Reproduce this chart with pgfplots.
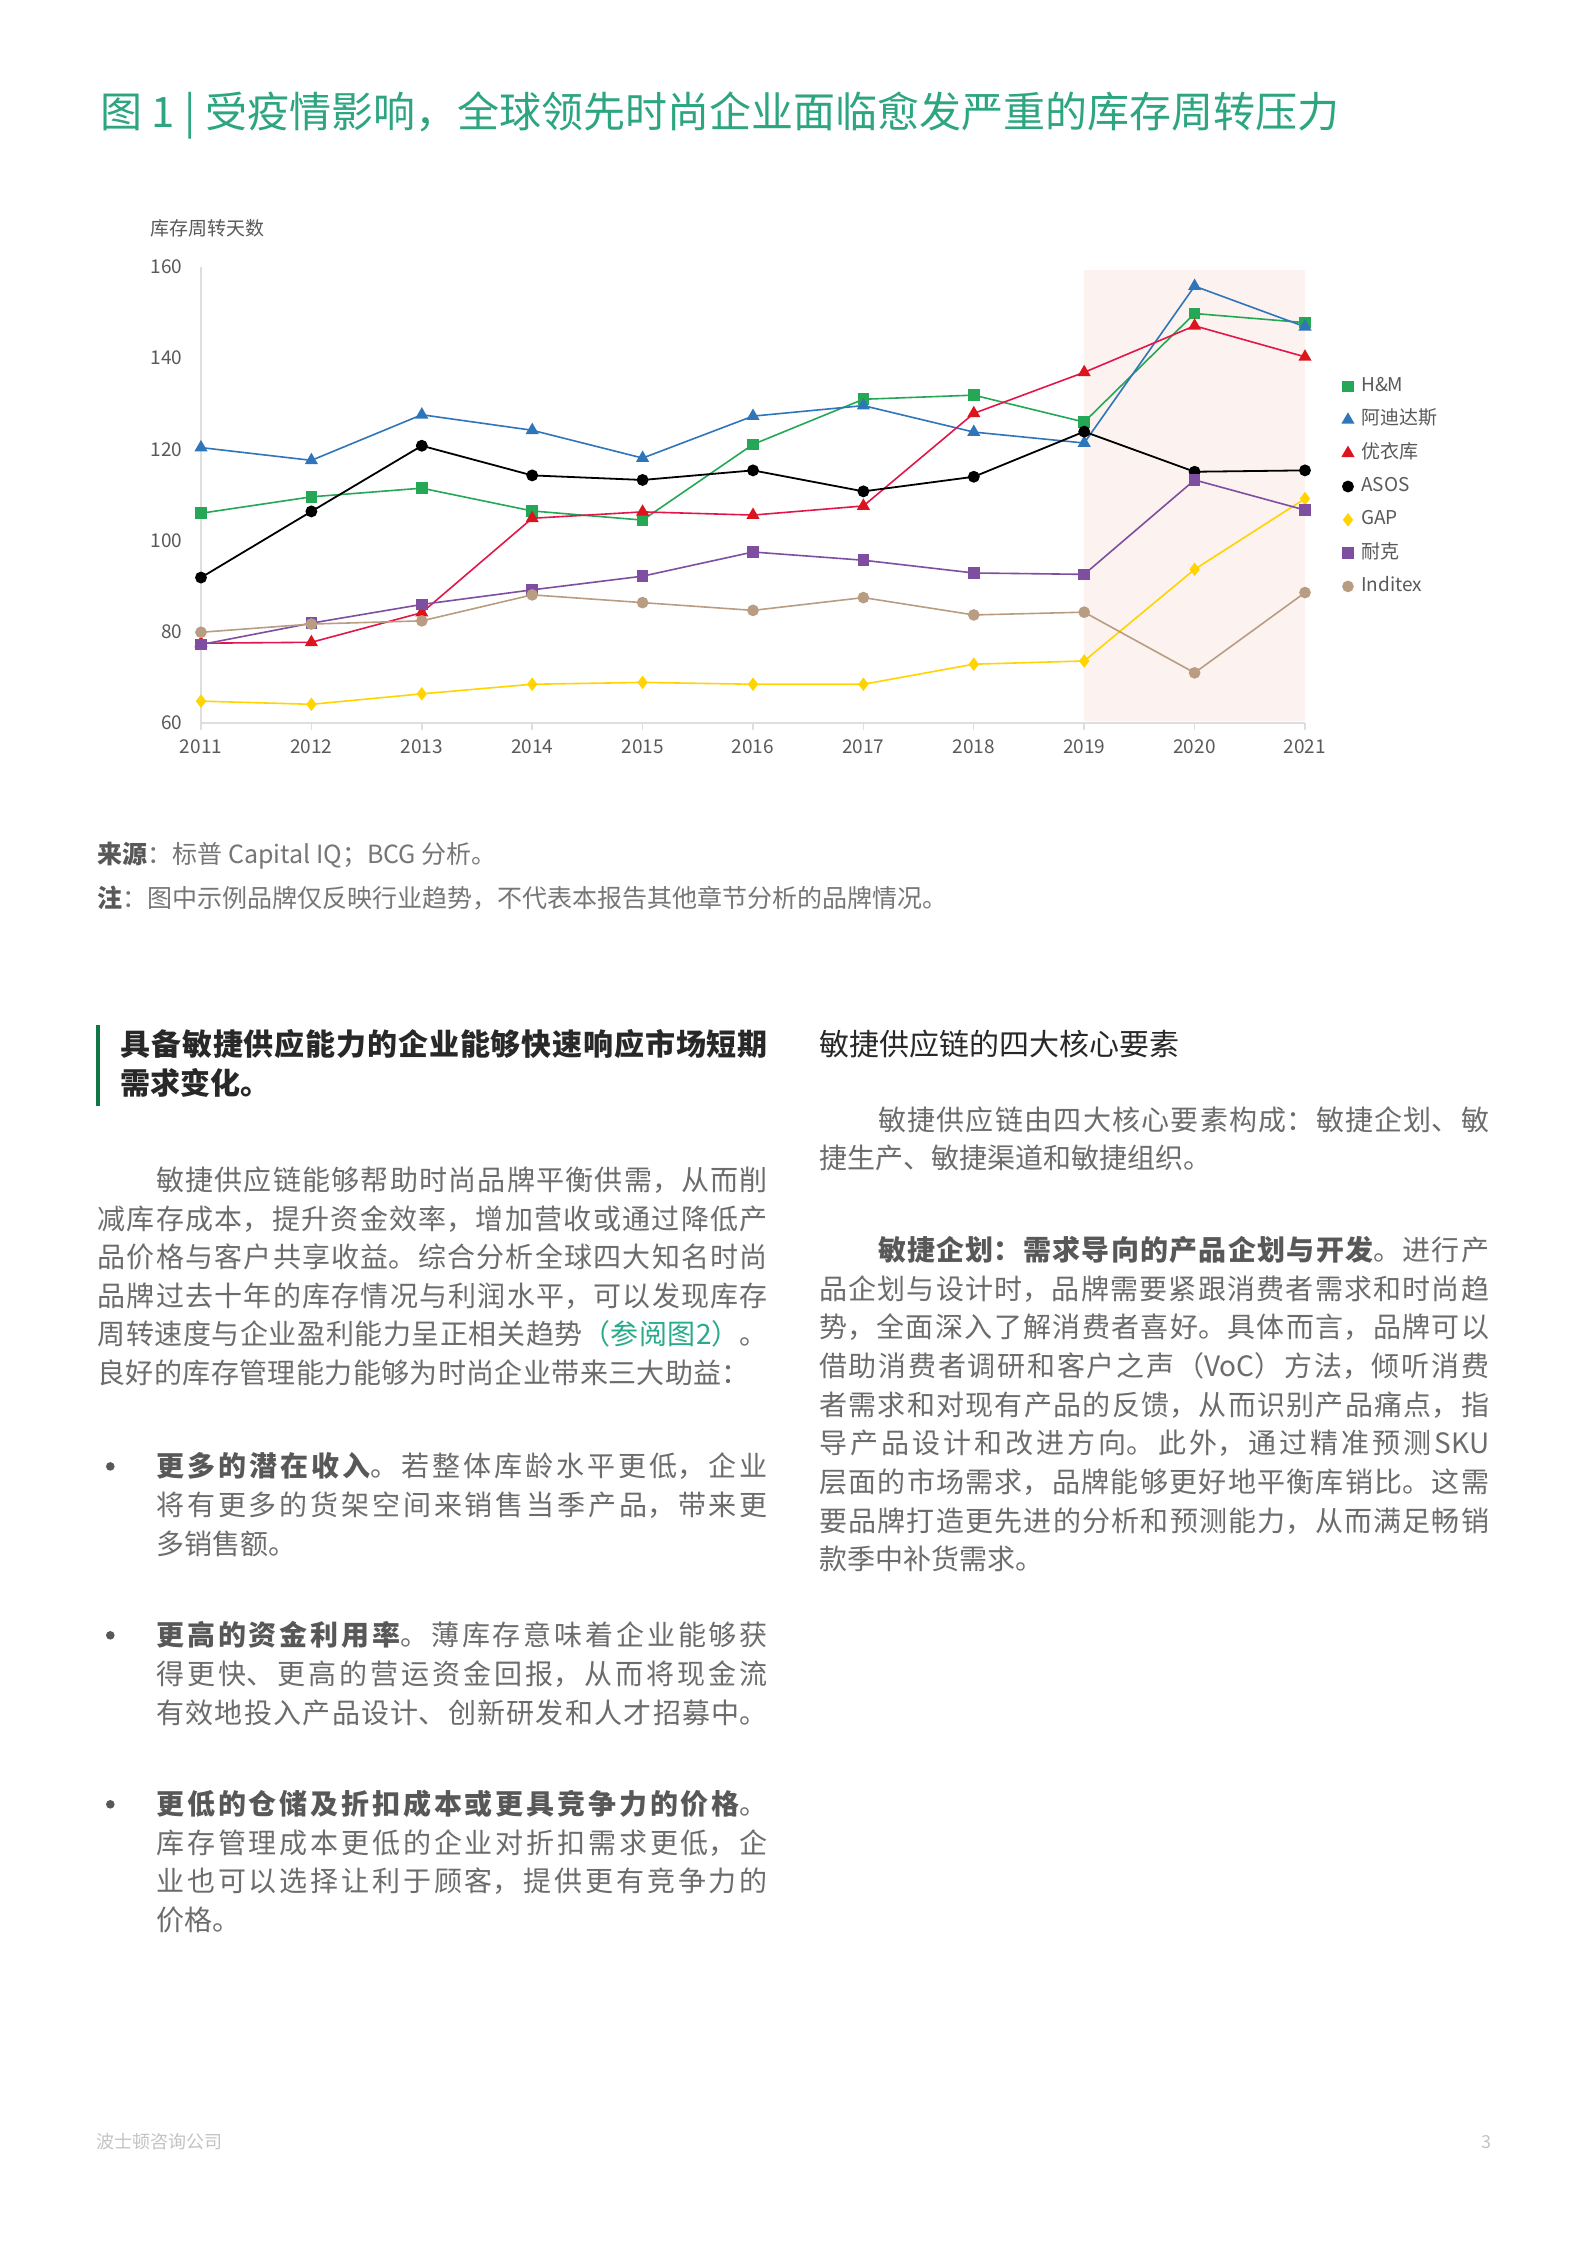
\documentclass[border=0pt]{standalone}
\usepackage{pgfplots}
\pgfplotsset{compat=1.18}
\usepackage{fontspec}
\setmainfont{Noto Sans CJK SC}
\XeTeXlinebreaklocale "zh"
\XeTeXlinebreakskip=0pt plus 20pt

\definecolor{titlegreen}{RGB}{44,165,128}
\definecolor{linkteal}{RGB}{40,170,140}
\definecolor{bargreen}{RGB}{18,118,68}
\definecolor{bodygray}{RGB}{108,108,108}
\definecolor{boldgray}{RGB}{88,88,88}
\definecolor{darktext}{RGB}{40,40,40}
\definecolor{srcgray}{RGB}{118,118,118}
\definecolor{footgray}{RGB}{195,195,195}
\definecolor{axisgray}{RGB}{222,222,222}
\definecolor{tickgray}{RGB}{89,89,89}
\definecolor{shade}{RGB}{252,242,239}
\definecolor{hm}{RGB}{36,168,86}
\definecolor{adidas}{RGB}{46,117,186}
\definecolor{uniqlo}{RGB}{226,22,72}
\definecolor{uniqlomark}{RGB}{220,20,30}
\definecolor{gap}{RGB}{255,212,0}
\definecolor{nike}{RGB}{126,78,160}
\definecolor{inditex}{RGB}{184,157,130}

\newcommand\fs[1]{\fontsize{#1}{#1}\selectfont}
% one justified line: x, centre y, width, size, text
\newcommand\jline[5]{\node[anchor=base west,inner sep=0pt] at ({#1},{-(#2)-0.37*#4})
  {\parbox[b]{#3pt}{\fs{#4}\parindent=0pt\parfillskip=0pt\tolerance=9999\relax #5}};}
% one natural line: x, centre y, size, text
\newcommand\pline[4]{\node[anchor=base west,inner sep=0pt] at ({#1},{-(#2)-0.37*#3}) {\fs{#3}#4};}

\begin{document}
\begin{tikzpicture}[x=1pt,y=1pt]
\fill[white] (0,0) rectangle (1586,-2244);

% title
\begin{scope}[text=titlegreen]
\pline{100}{111.7}{42}{图 1 | 受疫情影响，全球领先时尚企业面临愈发严重的库存周转压力}
\end{scope}

\begin{scope}[text=tickgray]
\pline{150}{228}{19}{库存周转天数}
\end{scope}

\begin{axis}[
  at={(201pt,-723pt)}, anchor=south west,
  width=1104pt, height=456pt, scale only axis,
  xmin=2011, xmax=2021, ymin=60, ymax=160,
  xtick={2011,...,2021}, ytick={60,80,...,160},
  axis x line=bottom, axis y line=left,
  axis line style={draw=axisgray, line width=1.5pt, -},
  /pgf/number format/assume math mode=true,
  x tick label style={/pgf/number format/1000 sep={}, anchor=north, inner sep=0pt, yshift=-9pt},
  y tick label style={anchor=east, inner sep=0pt, xshift=-11pt},
  tick label style={font=\fs{19}, text=tickgray},
  ytick style={draw=none},
  xtick style={draw=axisgray, line width=1.5pt},
  tick align=outside, major tick length=7pt,
  clip=false,
  line width=1.6pt,
  legend image code/.code={\draw[#1, only marks] plot coordinates {(0pt,0pt)};},
  legend style={draw=none, fill=none, at={(1.0335,0.757)}, anchor=north west,
    inner sep=0pt, font=\fs{19}, text=tickgray, row sep=17.3pt, column sep=8pt,
    nodes={inner sep=0pt, text height=13pt, text depth=3pt}},
  legend cell align=left,
]
\addplot[draw=none, fill=shade, forget plot] coordinates {(2019,60.4) (2019,159.3) (2021,159.3) (2021,60.4)};

\addplot[color=hm, mark=square*, mark size=5pt, mark options={solid}] coordinates {
 (2011,106.0) (2012,109.6) (2013,111.5) (2014,106.5) (2015,104.5) (2016,121.1)
 (2017,131.0) (2018,131.9) (2019,126.0) (2020,149.8) (2021,147.8)};
\addlegendentry{H\&M}
\addplot[color=adidas, mark=triangle*, mark size=6pt, mark options={solid}] coordinates {
 (2011,120.4) (2012,117.6) (2013,127.6) (2014,124.2) (2015,118.1) (2016,127.3)
 (2017,129.6) (2018,123.8) (2019,121.4) (2020,155.8) (2021,146.9)};
\addlegendentry{阿迪达斯}
\addplot[color=uniqlo, mark=triangle*, mark size=6pt, mark options={solid, fill=uniqlomark, draw=uniqlomark}] coordinates {
 (2011,77.5) (2012,77.7) (2013,84.2) (2014,104.9) (2015,106.3) (2016,105.6)
 (2017,107.6) (2018,127.9) (2019,136.9) (2020,147.1) (2021,140.3)};
\addlegendentry{优衣库}
\addplot[color=black, line width=1.8pt, mark=*, mark size=5pt, mark options={solid}] coordinates {
 (2011,91.9) (2012,106.4) (2013,120.8) (2014,114.3) (2015,113.3) (2016,115.4)
 (2017,110.8) (2018,114.0) (2019,123.9) (2020,115.1) (2021,115.4)};
\addlegendentry{ASOS}
\addplot[color=gap, mark=diamond*, mark size=5.5pt, mark options={solid}] coordinates {
 (2011,64.8) (2012,64.1) (2013,66.4) (2014,68.5) (2015,68.9) (2016,68.5)
 (2017,68.5) (2018,72.9) (2019,73.6) (2020,93.7) (2021,109.2)};
\addlegendentry{GAP}
\addplot[color=nike, mark=square*, mark size=5pt, mark options={solid}] coordinates {
 (2011,77.2) (2012,81.9) (2013,86.0) (2014,89.2) (2015,92.2) (2016,97.5)
 (2017,95.7) (2018,92.9) (2019,92.6) (2020,113.3) (2021,106.7)};
\addlegendentry{耐克}
\addplot[color=inditex, mark=*, mark size=5pt, mark options={solid}] coordinates {
 (2011,79.9) (2012,81.7) (2013,82.4) (2014,88.1) (2015,86.4) (2016,84.7)
 (2017,87.5) (2018,83.7) (2019,84.3) (2020,71.0) (2021,88.6)};
\addlegendentry{Inditex}
\end{axis}

% source and note
\begin{scope}[text=srcgray]
\pline{97.4}{854}{25}{{\bfseries\color{boldgray}来源}：标普 Capital IQ；BCG 分析。}
\pline{97.4}{898}{25}{{\bfseries\color{boldgray}注}：图中示例品牌仅反映行业趋势，不代表本报告其他章节分析的品牌情况。}
\end{scope}

% left column heading
\fill[bargreen] (95.5,-1025) rectangle (99.5,-1106);
\begin{scope}[text=darktext]
\jline{120.3}{1044}{647.3}{30}{\bfseries 具备敏捷供应能力的企业能够快速响应市场短期}
\pline{120.3}{1083}{30}{\bfseries 需求变化。}
\pline{819}{1044}{30}{敏捷供应链的四大核心要素}
\end{scope}

\begin{scope}[text=bodygray]
% left paragraph
\jline{156.1}{1180}{611.5}{28}{敏捷供应链能够帮助时尚品牌平衡供需，从而削}
\jline{97.4}{1218.7}{670.2}{28}{减库存成本，提升资金效率，增加营收或通过降低产}
\jline{97.4}{1257.3}{670.2}{28}{品价格与客户共享收益。综合分析全球四大知名时尚}
\jline{97.4}{1296}{670.2}{28}{品牌过去十年的库存情况与利润水平，可以发现库存}
\jline{97.4}{1334.6}{670.2}{28}{周转速度与企业盈利能力呈正相关趋势{\color{linkteal}（参阅图2）}。}
\jline{97.4}{1373.3}{652}{28}{良好的库存管理能力能够为时尚企业带来三大助益：}

% bullets
\fill[boldgray] (110.3,-1466.4) circle (4.3);
\fill[boldgray] (110.3,-1635.3) circle (4.3);
\fill[boldgray] (110.3,-1804.3) circle (4.3);
\jline{156.1}{1466.4}{611.5}{28}{{\bfseries\color{boldgray}更多的潜在收入}。若整体库龄水平更低，企业}
\jline{156.1}{1505}{611.5}{28}{将有更多的货架空间来销售当季产品，带来更}
\pline{156.1}{1543.7}{28}{多销售额。}
\jline{156.1}{1635.3}{611.5}{28}{{\bfseries\color{boldgray}更高的资金利用率}。薄库存意味着企业能够获}
\jline{156.1}{1674}{611.5}{28}{得更快、更高的营运资金回报，从而将现金流}
\jline{156.1}{1712.7}{611.5}{28}{有效地投入产品设计、创新研发和人才招募中。}
\jline{156.1}{1804.3}{611.5}{28}{{\bfseries\color{boldgray}更低的仓储及折扣成本或更具竞争力的价格}。}
\jline{156.1}{1843}{611.5}{28}{库存管理成本更低的企业对折扣需求更低，企}
\jline{156.1}{1881.6}{611.5}{28}{业也可以选择让利于顾客，提供更有竞争力的}
\pline{156.1}{1920.3}{28}{价格。}

% right column
\jline{877.8}{1119.8}{611.2}{28}{敏捷供应链由四大核心要素构成：敏捷企划、敏}
\pline{819}{1158.5}{28}{捷生产、敏捷渠道和敏捷组织。}
\jline{877.8}{1250.1}{611.2}{28}{{\bfseries\color{boldgray}敏捷企划：需求导向的产品企划与开发}。进行产}
\jline{819}{1288.8}{670}{28}{品企划与设计时，品牌需要紧跟消费者需求和时尚趋}
\jline{819}{1327.5}{670}{28}{势，全面深入了解消费者喜好。具体而言，品牌可以}
\jline{819}{1366.1}{670}{28}{借助消费者调研和客户之声（VoC）方法，倾听消费}
\jline{819}{1404.8}{670}{28}{者需求和对现有产品的反馈，从而识别产品痛点，指}
\jline{819}{1443.5}{670}{28}{导产品设计和改进方向。此外，通过精准预测SKU}
\jline{819}{1482.1}{670}{28}{层面的市场需求，品牌能够更好地平衡库销比。这需}
\jline{819}{1520.8}{670}{28}{要品牌打造更先进的分析和预测能力，从而满足畅销}
\pline{819}{1559.4}{28}{款季中补货需求。}
\end{scope}

% footer
\begin{scope}[text=footgray]
\pline{96.7}{2141.7}{18}{波士顿咨询公司}
\node[anchor=base,inner sep=0pt] at (1486,{-2141.7-0.37*18}) {\fs{18}3};
\end{scope}
\end{tikzpicture}
\end{document}
